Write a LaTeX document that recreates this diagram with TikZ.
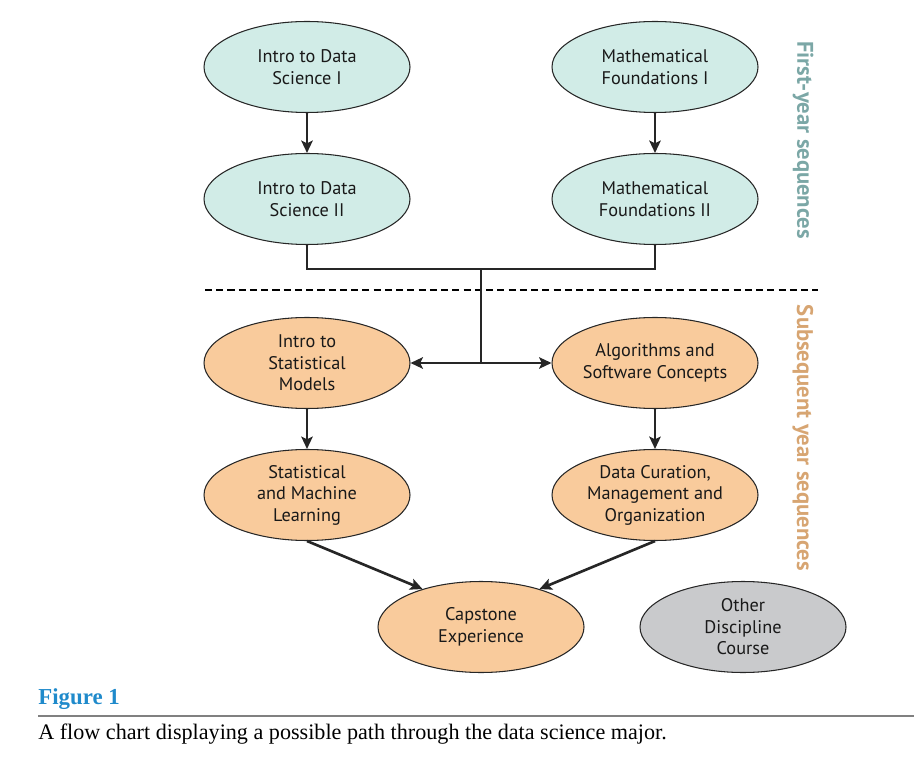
\documentclass[tikz,border=0pt]{standalone}
\usepackage{fontspec}
\setmainfont{Liberation Serif}
\newfontfamily\coursefont{PT Sans}
\usetikzlibrary{shapes.geometric, arrows.meta, positioning, calc}

\definecolor{firstfill}{HTML}{D1ECE7}
\definecolor{laterfill}{HTML}{F9CB9C}
\definecolor{otherfill}{HTML}{C9CACC}
\definecolor{firsttext}{HTML}{7BA7A6}
\definecolor{latertext}{HTML}{D7A572}
\definecolor{figblue}{HTML}{1F8ACB}

\begin{document}
\begin{tikzpicture}[
    % course ellipse style
    course/.style={
        ellipse,
        draw=black!85,
        line width=0.6pt,
        minimum width=4.12cm,
        minimum height=1.82cm,
        inner sep=0pt,
        align=center,
        text=black!90,
        font=\coursefont\fontsize{10.4}{12.2}\selectfont
    },
    firstyear/.style={course, fill=firstfill},
    lateryear/.style={course, fill=laterfill},
    otherdisc/.style={course, fill=otherfill},
    link/.style={
        line width=1.5pt,
        black!85
    },
    arrow/.style={
        link,
        -{Stealth[length=7pt, width=6.5pt, inset=1.5pt]}
    },
    sidelabel/.style={
        rotate=-90,
        font=\coursefont\bfseries\fontsize{12.9}{15}\selectfont
    }
]
\useasboundingbox (0,0) rectangle (18.28,15.44);

% === First-year sequences ===
\node[firstyear] (ids1) at (6.14, 14.10) {Intro to Data\\Science I};
\node[firstyear] (ids2) at (6.14, 11.46) {Intro to Data\\Science II};
\node[firstyear] (mf1) at (13.10, 14.10) {Mathematical\\Foundations I};
\node[firstyear] (mf2) at (13.10, 11.46) {Mathematical\\Foundations II};

\draw[arrow] (ids1) -- (ids2);
\draw[arrow] (mf1) -- (mf2);

% === Divider ===
\coordinate (divleft) at (4.10, 9.64);
\coordinate (divright) at (16.36, 9.64);
\draw[line width=1.1pt, dash pattern=on 4pt off 2.4pt] (divleft) -- (divright);

% === Subsequent year sequences ===
\node[lateryear] (ism) at (6.14, 8.18) {Intro to\\Statistical\\Models};
\node[lateryear] (asc) at (13.10, 8.18) {Algorithms and\\Software Concepts};
\node[lateryear] (sml) at (6.14, 5.54) {Statistical\\and Machine\\Learning};
\node[lateryear] (dcm) at (13.10, 5.54) {Data Curation,\\Management and\\Organization};
\node[lateryear] (cap) at (9.62, 2.90) {Capstone\\Experience};
\node[otherdisc] (odc) at (14.86, 2.90) {Other\\Discipline\\Course};

% joining the two first-year tracks
\coordinate (hub) at (9.62, 10.06);
\coordinate (split) at (hub |- ism.east);
\draw[link] (ids2.south) |- (hub) -| (mf2.south);
\draw[link] (hub) -- (split);
\draw[arrow] (split) -- (ism.east);
\draw[arrow] (split) -- (asc.west);

\draw[arrow] (ism) -- (sml);
\draw[arrow] (asc) -- (dcm);
\draw[arrow] (sml.south) -- (cap.147);
\draw[arrow] (dcm.south) -- (cap.33);

% === Side labels ===
\node[sidelabel, text=firsttext] (firstlabel) at (16.06, 12.64) {First-year sequences};
\node[sidelabel, text=latertext] (laterlabel) at (16.06, 6.68) {Subsequent year sequences};

% === Caption ===
\node[anchor=west, inner sep=0pt, text=figblue, font=\bfseries\fontsize{13}{15}\selectfont] (figtitle) at (0.76, 1.46) {Figure 1};
\coordinate (ruleleft) at (0.76, 1.12);
\coordinate (ruleright) at (18.28, 1.12);
\draw[black!50, line width=0.9pt] (ruleleft) -- (ruleright);
\node[anchor=west, inner sep=0pt, font=\fontsize{12.6}{15}\selectfont] (figcaption) at (0.76, 0.76) {A flow chart displaying a possible path through the data science major.};

\end{tikzpicture}
\end{document}
